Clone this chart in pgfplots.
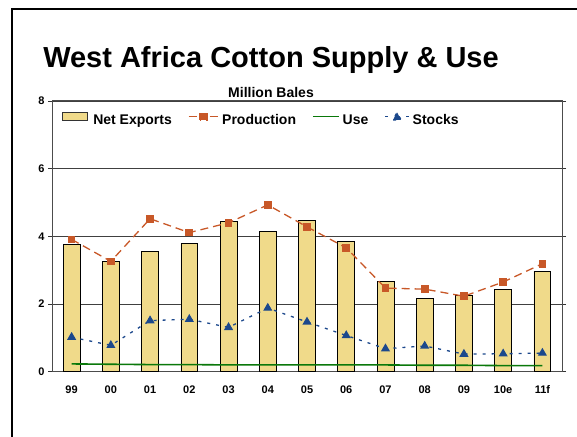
\documentclass[border=0pt]{standalone}
\usepackage{pgfplots}
\pgfplotsset{compat=1.18}
\usepackage{fontspec}
\setmainfont{Liberation Sans}
\definecolor{barfill}{RGB}{240,218,138}
\definecolor{prodc}{RGB}{200,88,40}
\definecolor{stockc}{RGB}{28,72,140}
\definecolor{usec}{RGB}{10,120,10}
\begin{document}
\begin{tikzpicture}[x=1bp,y=1bp]
\path[use as bounding box] (0,0) rectangle (577,437);
\draw[line width=1.6bp] (12,-2) -- (12,428) -- (579,428);
\node[font=\bfseries\fontsize{29bp}{33bp}\selectfont] at (271,377) {West Africa Cotton Supply \& Use};
\node[font=\bfseries\fontsize{14bp}{16bp}\selectfont] at (271,344) {Million Bales};
\begin{axis}[
  at={(52bp,65.3bp)}, anchor=south west,
  scale only axis, width=510bp, height=270.7bp,
  xmin=-0.5, xmax=12.5, ymin=0, ymax=8,
  ytick={0,2,4,6,8},
  ymajorgrids, grid style={line width=0.9bp, color=black!75},
  xtick={0,...,12},
  xticklabels={99,00,01,02,03,04,05,06,07,08,09,10e,11f},
  x tick style={draw=none},
  extra x ticks={-0.5,0.5,...,12.5},
  extra x tick labels={},
  extra x tick style={grid=none, major tick length=4bp, tick align=outside, tick style={draw=black!80, line width=0.8bp}},
  y tick style={draw=black!80, line width=0.8bp},
  major tick length=4bp, tick align=outside,
  tick label style={font=\bfseries\fontsize{11bp}{13bp}\selectfont},
  /pgf/number format/assume math mode=true,
  xticklabel style={yshift=-6bp, text height=8bp, text depth=2bp},
  axis line style={draw=black!70, line width=1bp},
  legend columns=4,
  legend style={draw=none, fill=none, at={(0.41,0.93)}, anchor=center,
    font=\bfseries\fontsize{14bp}{16bp}\selectfont, column sep=1bp,
    /tikz/every even column/.append style={column sep=14bp}},
  legend cell align=left,
]
\addplot[ybar, bar width=0.43, fill=barfill, draw=black, line width=0.7bp,
  area legend,
  legend image code/.code={\draw[fill=barfill, draw=black!80, line width=0.7bp] (0bp,-0.5bp) rectangle (25bp,8bp); \path (28bp,0bp);}]
  coordinates {(0,3.76) (1,3.26) (2,3.56) (3,3.79) (4,4.45) (5,4.14) (6,4.47) (7,3.86) (8,2.66) (9,2.16) (10,2.27) (11,2.42) (12,2.97)};
\addlegendentry{Net Exports}
\addplot[color=prodc, line width=1.3bp, dash pattern=on 8bp off 5bp, mark=square*, mark size=3.2bp, mark options={solid, fill=prodc, draw=prodc},
  legend image code/.code={\begin{scope}[yshift=3.7bp]\draw[color=prodc, line width=1.4bp] (0bp,0bp) -- (9bp,0bp); \draw[color=prodc, line width=1.4bp] (21bp,0bp) -- (30bp,0bp); \fill[prodc] (11.5bp,-3.3bp) rectangle (18.5bp,3.3bp);\end{scope}}]
  coordinates {(0,3.91) (1,3.26) (2,4.52) (3,4.11) (4,4.40) (5,4.93) (6,4.28) (7,3.66) (8,2.47) (9,2.44) (10,2.23) (11,2.65) (12,3.19)};
\addlegendentry{Production}
\addplot[color=usec, line width=1.6bp,
  legend image code/.code={\draw[color=usec, line width=1.6bp] (0bp,3.7bp) -- (26bp,3.7bp);}]
  coordinates {(0,0.23) (1,0.22) (2,0.21) (3,0.21) (4,0.20) (5,0.20) (6,0.20) (7,0.20) (8,0.20) (9,0.19) (10,0.19) (11,0.18) (12,0.18)};
\addlegendentry{Use}
\addplot[color=stockc, line width=1.3bp, dash pattern=on 3bp off 6bp, mark=triangle*, mark size=4bp, mark options={solid, fill=stockc, draw=stockc},
  legend image code/.code={\begin{scope}[yshift=3.7bp]\draw[color=stockc, line width=1.4bp] (0bp,0bp) -- (3bp,0bp); \draw[color=stockc, line width=1.4bp] (21bp,0bp) -- (24bp,0bp); \fill[stockc] (8bp,-3.3bp) -- (16bp,-3.3bp) -- (12bp,4.2bp) -- cycle;\end{scope}}]
  coordinates {(0,1.02) (1,0.78) (2,1.51) (3,1.55) (4,1.31) (5,1.88) (6,1.47) (7,1.07) (8,0.68) (9,0.76) (10,0.52) (11,0.53) (12,0.55)};
\addlegendentry{Stocks}
\end{axis}
\end{tikzpicture}
\end{document}
